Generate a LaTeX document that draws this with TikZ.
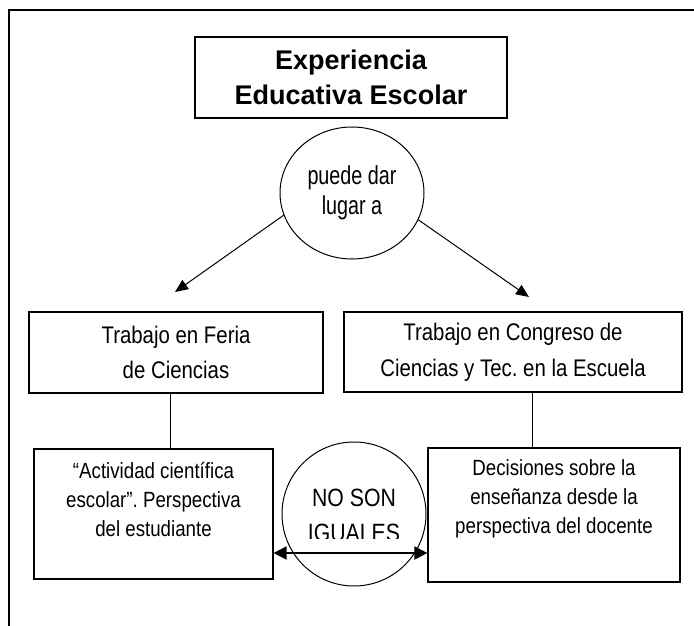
\documentclass[tikz,border=0pt]{standalone}
\usepackage{fontspec}
\setmainfont{Liberation Sans}[FakeStretch=0.85]
\newfontfamily\narrowfont{Liberation Sans}[FakeStretch=0.76]
\newfontfamily\titlefont{Liberation Sans}
\usetikzlibrary{positioning,shapes.geometric,arrows.meta}
\frenchspacing
\begin{document}
\begin{tikzpicture}[x=1pt,y=-1pt,
    box/.style={draw, line width=1.2pt, inner sep=0pt, align=center},
    bubble/.style={draw, line width=1pt, inner sep=0pt, align=center},
    txt/.style={inner sep=0pt, align=center, font=\fontsize{22}{29}\selectfont},
    arr/.style={line width=1pt, -{Triangle[length=13pt,width=11pt]}}]
    \useasboundingbox (0,0) rectangle (694,626);
    \draw[line width=1.4pt] (694,10) -- (9,10) -- (9,626);

    \node[box, minimum width=312pt, minimum height=81pt, font=\titlefont\bfseries\fontsize{27}{35}\selectfont] (title) at (351,77.5) {Experiencia\\Educativa Escolar};
    \node[bubble, ellipse, minimum width=144pt, minimum height=132pt, font=\narrowfont\fontsize{26}{30}\selectfont] (dar) at (352,193) {puede dar\\lugar a};

    \node[box, minimum width=294pt, minimum height=81pt, font=\fontsize{24}{35}\selectfont] (feria) at (176,352.5) {Trabajo en Feria\\de Ciencias};
    \node[box, minimum width=338pt, minimum height=80pt, font=\fontsize{24}{36}\selectfont] (congreso) at (513,352) {Trabajo en Congreso de\\Ciencias y Tec. en la Escuela};

    \node[box, minimum width=239pt, minimum height=130pt] (alumno) at (153.5,514) {};
    \node[box, minimum width=252pt, minimum height=134pt] (docente) at (554,515) {};
    \node[txt, below=14pt of alumno.north] (alumnotxt) {“Actividad científica\\escolar”. Perspectiva\\del estudiante};
    \node[txt, below=12pt of docente.north] (docentetxt) {Decisiones sobre la\\enseñanza desde la\\perspectiva del docente};

    \node[bubble, circle, minimum size=144pt] (noson) at (354,514) {};
    \begin{scope}
        \clip (282,442) rectangle (426,538);
        \node[txt, font=\fontsize{25}{35}\selectfont] (nosontxt) at (354,515) {NO SON\\IGUALES};
    \end{scope}

    \coordinate (tipferia) at (175,292);
    \coordinate (tipcongreso) at (529,297);
    \draw[arr] (dar.198) -- (tipferia);
    \draw[arr] (dar.338) -- (tipcongreso);
    \draw[line width=1pt] ([xshift=-6pt]feria.south) -- ([xshift=-6pt]feria.south |- alumno.north);
    \draw[line width=1pt] ([xshift=19pt]congreso.south) -- ([xshift=19pt]congreso.south |- docente.north);
    \draw[line width=2pt, {Triangle[length=13pt,width=13pt]}-{Triangle[length=13pt,width=13pt]}] ([yshift=-39pt]alumno.east) -- ([yshift=-39pt]alumno.east -| docente.west);
\end{tikzpicture}
\end{document}
